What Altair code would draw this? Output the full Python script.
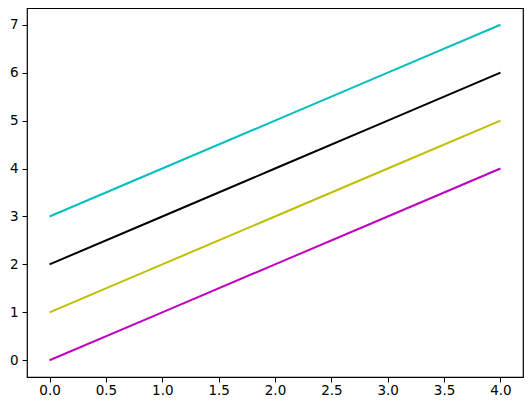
import altair as alt
import pandas as pd

x_vals = [0, 1, 2, 3, 4]
series_names = ["m", "y", "k", "c"]
series_values = {
    "m": [0, 1, 2, 3, 4],
    "y": [1, 2, 3, 4, 5],
    "k": [2, 3, 4, 5, 6],
    "c": [3, 4, 5, 6, 7],
}
series_colors = ["#bf00bf", "#bfbf00", "#000000", "#00bfbf"]
x_ticks = [0.0, 0.5, 1.0, 1.5, 2.0, 2.5, 3.0, 3.5, 4.0]
y_ticks = [0, 1, 2, 3, 4, 5, 6, 7]

rows = []
for order, name in enumerate(series_names):
    for xv, yv in zip(x_vals, series_values[name]):
        rows.append({"x": xv, "y": yv, "series": name, "order": order})
df = pd.DataFrame(rows)

axis_common = dict(
    grid=False,
    domain=False,
    tickColor="black",
    tickSize=5,
    tickWidth=1,
    labelFont="DejaVu Sans",
    labelFontSize=13.5,
    labelColor="black",
    title=None,
)

chart = (
    alt.Chart(df)
    .mark_line(strokeWidth=2)
    .encode(
        x=alt.X(
            "x:Q",
            scale=alt.Scale(domain=[-0.2, 4.2], nice=False, zero=False),
            axis=alt.Axis(values=x_ticks, format=".1f", labelPadding=1, **axis_common),
        ),
        y=alt.Y(
            "y:Q",
            scale=alt.Scale(domain=[-0.35, 7.35], nice=False, zero=False),
            axis=alt.Axis(values=y_ticks, format="d", labelPadding=4, **axis_common),
        ),
        color=alt.Color(
            "series:N",
            scale=alt.Scale(domain=series_names, range=series_colors),
            legend=None,
        ),
        detail="series:N",
        order="x:Q",
    )
    .properties(
        width=496,
        height=369,
        autosize=alt.AutoSizeParams(type="none"),
        padding={"left": 19, "top": 0, "right": 1, "bottom": 20},
    )
    .configure(background="white")
    .configure_view(stroke="black", strokeWidth=1.2)
)

chart.save("out.html", embed_options={"renderer": "svg", "actions": False})
